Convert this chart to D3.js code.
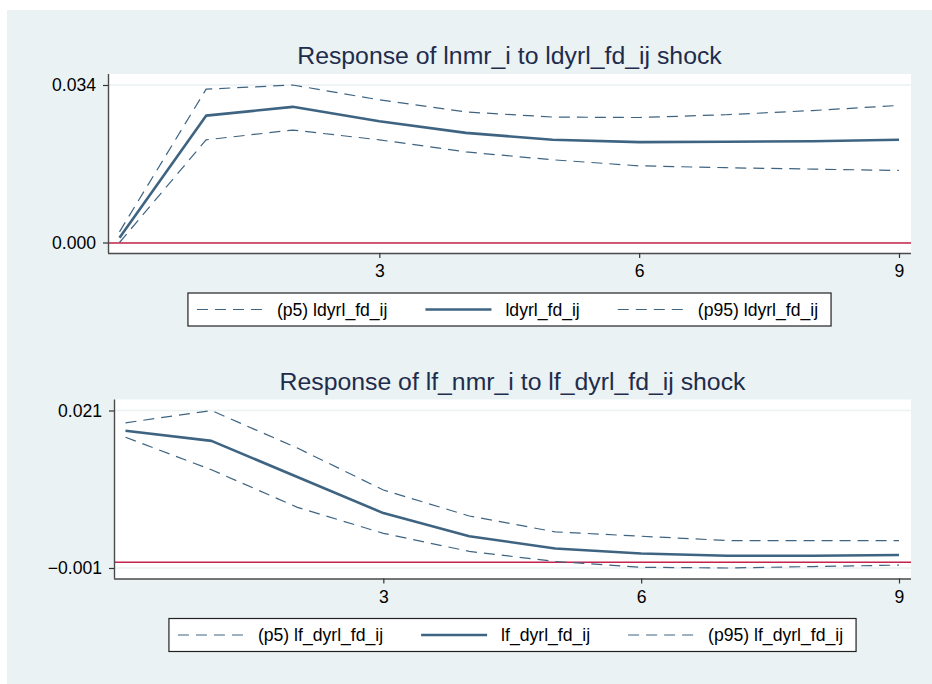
<!DOCTYPE html>
<html>
<head>
<meta charset="utf-8">
<script src="https://cdn.jsdelivr.net/npm/d3@7"></script>
<style>
  html, body { margin: 0; padding: 0; background: #ffffff; }
  svg { display: block; font-family: "Liberation Sans", Arial, sans-serif; }
</style>
</head>
<body>
<svg id="chart" width="932" height="684"></svg>
<script>
// irf steps
const steps = [0, 1, 2, 3, 4, 5, 6, 7, 8, 9];
const xTicks = [3, 6, 9];

// panel 1: response of lnmr_i to ldyrl_fd_ij shock
const topTitle = 'Response of lnmr_i to ldyrl_fd_ij shock';
const topIrf = [0.0011, 0.0274, 0.0293, 0.0262, 0.0237, 0.0222, 0.0217, 0.0218, 0.0219, 0.0222];
const topP5  = [0.0001, 0.0222, 0.0243, 0.0222, 0.0196, 0.0179, 0.0166, 0.0162, 0.0159, 0.0156];
const topP95 = [0.0024, 0.0331, 0.0340, 0.0308, 0.0282, 0.0271, 0.0270, 0.0276, 0.0285, 0.0296];
const topYTicks = [0.0001, 0.0340];
const topLegend = ['(p5) ldyrl_fd_ij', 'ldyrl_fd_ij', '(p95) ldyrl_fd_ij'];

// panel 2: response of lf_nmr_i to lf_dyrl_fd_ij shock
const botTitle = 'Response of lf_nmr_i to lf_dyrl_fd_ij shock';
const botIrf = [0.0182, 0.0168, 0.0118, 0.0068, 0.0036, 0.0019, 0.0012, 0.0009, 0.0009, 0.0010];
const botP5  = [0.0173, 0.0128, 0.0076, 0.0040, 0.0015, 0.0001, -0.0007, -0.0008, -0.0006, -0.0004];
const botP95 = [0.0193, 0.0210, 0.0158, 0.0100, 0.0064, 0.0042, 0.0036, 0.0030, 0.0030, 0.0030];
const botYTicks = [-0.0008, 0.0210];
const botLegend = ['(p5) lf_dyrl_fd_ij', 'lf_dyrl_fd_ij', '(p95) lf_dyrl_fd_ij'];

const BG = '#eaf2f3';
const LINE = '#3e6482';
const REF = '#c4244c';
const TITLE = '#1f2c4c';

const svg = d3.select('#chart');

// graph region
svg.append('rect')
  .attr('x', 7).attr('y', 10)
  .attr('width', 925).attr('height', 674)
  .attr('fill', BG);

const fmt = v => d3.format('.3f')(v).replace('-', '\u2212');

function drawPanel(cfg) {
  const g = svg.append('g').attr('transform', `translate(0,${cfg.offsetY})`);
  const plotTop = 74, axisY = 253, plotRight = 911;
  const left = cfg.left;

  const x = d3.scaleLinear().domain([0, 9]).range([left + 11.5, 899]);
  const y = d3.scaleLinear().domain(cfg.yTicks).range([axisY - 10.5, plotTop + 11]);

  // plot region
  g.append('rect')
    .attr('x', left).attr('y', plotTop)
    .attr('width', plotRight - left).attr('height', axisY - plotTop)
    .attr('fill', '#ffffff');

  // grid lines
  g.selectAll('.grid')
    .data(cfg.yTicks)
    .enter()
    .append('line')
    .attr('class', 'grid')
    .attr('x1', left).attr('x2', plotRight)
    .attr('y1', d => y(d)).attr('y2', d => y(d))
    .attr('stroke', BG).attr('stroke-width', 1.5);

  // zero line
  g.append('line')
    .attr('x1', left).attr('x2', plotRight)
    .attr('y1', y(0)).attr('y2', y(0))
    .attr('stroke', REF).attr('stroke-width', 1.6);

  const line = vals => d3.line()
    .x((d, i) => x(steps[i]))
    .y(d => y(d))(vals);

  [cfg.p5, cfg.p95].forEach(vals => {
    g.append('path')
      .attr('d', line(vals))
      .attr('fill', 'none')
      .attr('stroke', LINE)
      .attr('stroke-width', 1.2)
      .attr('stroke-dasharray', '11,7');
  });

  g.append('path')
    .attr('d', line(cfg.irf))
    .attr('fill', 'none')
    .attr('stroke', LINE)
    .attr('stroke-width', 2.6)
    .attr('stroke-linejoin', 'round');

  // axes
  const yAxis = g.append('g')
    .attr('transform', `translate(${left},0)`)
    .call(d3.axisLeft(y).tickValues(cfg.yTicks).tickFormat(fmt).tickSize(5).tickPadding(7));
  yAxis.select('.domain').attr('d', `M0.5,${plotTop}V${axisY}`);

  const xAxis = g.append('g')
    .attr('transform', `translate(0,${axisY})`)
    .call(d3.axisBottom(x).tickValues(xTicks).tickFormat(d3.format('d')).tickSize(5).tickPadding(7));
  xAxis.select('.domain').attr('d', `M${left},0.5H${plotRight}`);

  [yAxis, xAxis].forEach(a => {
    a.select('.domain').attr('stroke', '#4a4a4a').attr('stroke-width', 1.4);
    a.selectAll('.tick line').attr('stroke', '#333').attr('stroke-width', 1.2);
    a.selectAll('.tick text').attr('fill', '#000').style('font-size', '17.6px');
  });

  // title
  g.append('text')
    .attr('x', (left + plotRight) / 2)
    .attr('y', 64)
    .attr('text-anchor', 'middle')
    .attr('fill', TITLE)
    .style('font-size', '24.8px')
    .text(cfg.title);

  // legend
  const lg = g.append('g');
  const box = lg.append('rect')
    .attr('fill', '#ffffff')
    .attr('stroke', '#222')
    .attr('stroke-width', 1.2);
  const keyW = 66, keyGap = 14, itemGap = 38, padL = 9, padR = 13;
  const legTop = 293, legH = 33, midY = legTop + legH / 2;
  let cx = 0;
  cfg.legend.forEach((label, i) => {
    lg.append('line')
      .attr('x1', cx).attr('x2', cx + keyW)
      .attr('y1', midY).attr('y2', midY)
      .attr('stroke', LINE)
      .attr('stroke-width', i === 1 ? 2.6 : 1.2)
      .attr('stroke-dasharray', i === 1 ? null : '11,7');
    const t = lg.append('text')
      .attr('x', cx + keyW + keyGap)
      .attr('y', midY)
      .attr('dy', '0.35em')
      .style('font-size', '17.6px')
      .attr('fill', '#000')
      .text(label);
    cx += keyW + keyGap + t.node().getComputedTextLength() + itemGap;
  });
  const inner = cx - itemGap;
  const boxW = padL + inner + padR;
  const boxX = (left + plotRight) / 2 - boxW / 2;
  box.attr('x', boxX).attr('y', legTop).attr('width', boxW).attr('height', legH);
  lg.selectAll('line, text').attr('transform', `translate(${boxX + padL},0)`);
}

drawPanel({
  offsetY: 0, left: 108, title: topTitle,
  irf: topIrf, p5: topP5, p95: topP95, yTicks: topYTicks, legend: topLegend
});
drawPanel({
  offsetY: 325.5, left: 114, title: botTitle,
  irf: botIrf, p5: botP5, p95: botP95, yTicks: botYTicks, legend: botLegend
});
</script>
</body>
</html>
